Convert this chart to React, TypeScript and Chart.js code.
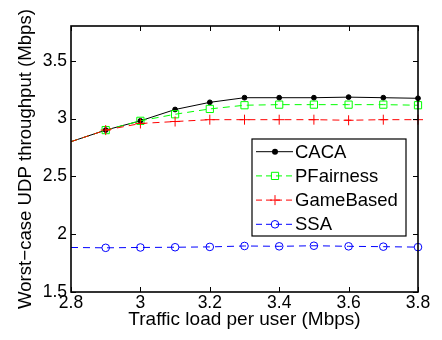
import React, { useEffect, useRef } from "react";
import { Chart, registerables } from "chart.js";

Chart.register(...registerables);

const loads = [2.8, 2.9, 3.0, 3.1, 3.2, 3.3, 3.4, 3.5, 3.6, 3.7, 3.8];
const caca = [2.8, 2.9, 2.98, 3.078, 3.14, 3.18, 3.18, 3.18, 3.185, 3.18, 3.175];
const pfairness = [2.8, 2.9, 2.98, 3.037, 3.083, 3.115, 3.12, 3.12, 3.12, 3.12, 3.115];
const gameBased = [2.8, 2.9, 2.957, 2.974, 2.99, 2.99, 2.99, 2.99, 2.985, 2.99, 2.99];
const ssa = [1.885, 1.882, 1.885, 1.887, 1.89, 1.898, 1.895, 1.9, 1.895, 1.892, 1.888];

const seriesNames = ["CACA", "PFairness", "GameBased", "SSA"];
const xTicks = [2.8, 3, 3.2, 3.4, 3.6, 3.8];
const yTicks = [1.5, 2, 2.5, 3, 3.5];
const xTitle = "Traffic load per user (Mbps)";
const yTitle = "Worst\u2212case UDP throughput (Mbps)";

const FONT = "'Liberation Sans', Arial, Helvetica, sans-serif";

type Style = {
  color: string;
  dash: number[];
  marker: "dot" | "square" | "plus" | "circle";
};
const styles: Style[] = [
  { color: "#000000", dash: [], marker: "dot" },
  { color: "#00ff00", dash: [7, 5], marker: "square" },
  { color: "#ff0000", dash: [7, 5], marker: "plus" },
  { color: "#0000ff", dash: [7, 5], marker: "circle" },
];

function drawMarker(ctx: CanvasRenderingContext2D, kind: Style["marker"], x: number, y: number, color: string) {
  ctx.save();
  ctx.setLineDash([]);
  ctx.strokeStyle = color;
  ctx.fillStyle = color;
  ctx.lineWidth = 1;
  ctx.beginPath();
  if (kind === "dot") {
    ctx.arc(x, y, 3, 0, Math.PI * 2);
    ctx.fill();
  } else if (kind === "square") {
    ctx.rect(x - 3.6, y - 3.6, 7.2, 7.2);
    ctx.stroke();
  } else if (kind === "plus") {
    ctx.moveTo(x - 5, y);
    ctx.lineTo(x + 5, y);
    ctx.moveTo(x, y - 5);
    ctx.lineTo(x, y + 5);
    ctx.stroke();
  } else {
    ctx.arc(x, y, 3.8, 0, Math.PI * 2);
    ctx.stroke();
  }
  ctx.restore();
}

const framePlugin = {
  id: "matlabFrame",
  afterDraw(chart: any) {
    const { ctx, chartArea } = chart;
    const { left, right, top, bottom } = chartArea;
    const xs = chart.scales.x;
    const ys = chart.scales.y;
    ctx.save();
    ctx.strokeStyle = "#000";
    ctx.lineWidth = 1;
    ctx.setLineDash([]);
    ctx.beginPath();
    for (const v of xTicks) {
      const px = Math.round(xs.getPixelForValue(v)) + 0.5;
      ctx.moveTo(px, bottom);
      ctx.lineTo(px, bottom - 5);
      ctx.moveTo(px, top);
      ctx.lineTo(px, top + 5);
    }
    for (const v of yTicks) {
      const py = Math.round(ys.getPixelForValue(v)) + 0.5;
      ctx.moveTo(left, py);
      ctx.lineTo(left + 5, py);
      ctx.moveTo(right, py);
      ctx.lineTo(right - 5, py);
    }
    ctx.stroke();
    ctx.lineWidth = 1.6;
    ctx.strokeRect(left, top, right - left, bottom - top);

    // legend
    const lx = right - 166;
    const ly = top + 113;
    const lw = 154;
    const lh = 97;
    ctx.fillStyle = "#fff";
    ctx.fillRect(lx, ly, lw, lh);
    ctx.lineWidth = 1.2;
    ctx.strokeStyle = "#000";
    ctx.strokeRect(lx, ly, lw, lh);
    ctx.font = `18.5px ${FONT}`;
    ctx.textBaseline = "middle";
    ctx.textAlign = "left";
    seriesNames.forEach((name, i) => {
      const st = styles[i];
      const iy = ly + 12.7 + i * 24.2;
      ctx.save();
      ctx.strokeStyle = st.color;
      ctx.lineWidth = 1;
      ctx.setLineDash(st.dash.length ? [6, 4] : []);
      ctx.beginPath();
      ctx.moveTo(lx + 4, iy);
      ctx.lineTo(lx + 41, iy);
      ctx.stroke();
      ctx.restore();
      drawMarker(ctx, st.marker, lx + 23, iy, st.color);
      ctx.fillStyle = "#000";
      ctx.fillText(name, lx + 43, iy + 1);
    });
    ctx.restore();
  },
};

const seriesData = [caca, pfairness, gameBased, ssa];
const pointStyleMap: Record<string, string> = {
  dot: "circle",
  square: "rect",
  plus: "cross",
  circle: "circle",
};

const fmt = (v: any) => String(Number(v));

export default function App() {
  const ref = useRef<HTMLCanvasElement | null>(null);
  useEffect(() => {
    if (!ref.current) return;
    const datasets = seriesNames.map((name, i) => {
      const st = styles[i];
      const radii = loads.map((_, j) => (j === 0 ? 0 : st.marker === "dot" ? 2.4 : st.marker === "square" ? 5.1 : st.marker === "plus" ? 5 : 3.8));
      return {
        label: name,
        data: loads.map((x, j) => ({ x, y: seriesData[i][j] })),
        borderColor: st.color,
        backgroundColor: st.marker === "dot" ? st.color : "rgba(0,0,0,0)",
        borderWidth: 1,
        borderDash: st.dash,
        pointStyle: pointStyleMap[st.marker],
        pointRadius: radii,
        pointBorderWidth: 1,
        pointBackgroundColor: st.marker === "dot" ? st.color : "rgba(0,0,0,0)",
        pointBorderColor: st.color,
        tension: 0,
        clip: false as any,
        order: 3 - i,
      };
    });
    const chart = new Chart(ref.current, {
      type: "line",
      data: { datasets },
      options: {
        responsive: false,
        animation: false,
        layout: { padding: { top: 26, right: 24, left: 0, bottom: 0 } },
        plugins: { legend: { display: false }, tooltip: { enabled: false } },
        scales: {
          x: {
            type: "linear",
            min: 2.8,
            max: 3.8,
            afterBuildTicks: (s: any) => {
              s.ticks = xTicks.map((v) => ({ value: v }));
            },
            afterFit: (s: any) => {
              s.height = 48;
            },
            grid: { display: false, drawTicks: false, tickLength: 0 },
            border: { display: false },
            ticks: {
              color: "#000",
              font: { family: FONT, size: 17.5 },
              padding: 1,
              maxRotation: 0,
              autoSkip: false,
              callback: fmt,
            },
            title: {
              display: true,
              text: xTitle,
              color: "#000",
              font: { family: FONT, size: 19 },
              padding: { top: 0, bottom: 9 },
            },
          },
          y: {
            type: "linear",
            min: 1.5,
            max: 3.8,
            afterBuildTicks: (s: any) => {
              s.ticks = yTicks.map((v) => ({ value: v }));
            },
            afterFit: (s: any) => {
              s.width = 71;
            },
            grid: { display: false, drawTicks: false, tickLength: 0 },
            border: { display: false },
            ticks: {
              color: "#000",
              font: { family: FONT, size: 17.5 },
              padding: 4,
              autoSkip: false,
              callback: fmt,
            },
            title: {
              display: true,
              text: yTitle,
              color: "#000",
              font: { family: FONT, size: 18.6 },
              padding: { top: 15, bottom: 0 },
            },
          },
        },
      },
      plugins: [framePlugin],
    });
    return () => chart.destroy();
  }, []);
  return (
    <canvas
      ref={ref}
      width={442}
      height={340}
      style={{ position: "fixed", left: 0, top: 0, width: 442, height: 340, display: "block", background: "#fff" }}
    />
  );
}
